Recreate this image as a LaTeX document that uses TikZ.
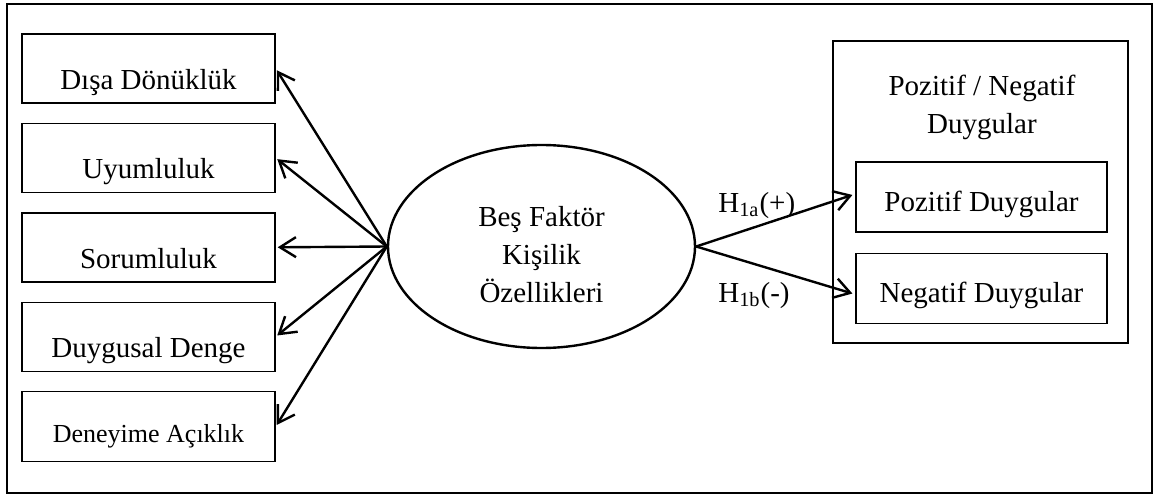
\documentclass[tikz,border=0pt]{standalone}
\usepackage{fontspec}
\setmainfont{Liberation Serif}
\usetikzlibrary{positioning}
\usetikzlibrary{shapes.geometric}
\usetikzlibrary{arrows.meta}

\begin{document}
\begin{tikzpicture}[
		x=0.5pt, y=-0.5pt,
		% styles
		yazi/.style={font=\fontsize{14.5pt}{19pt}\selectfont},
		kutu/.style={draw, line width=0.7pt, minimum width=126.5pt, minimum height=34.5pt, inner sep=0pt, text height=21pt, text depth=0pt, yazi},
		ickutu/.style={draw, line width=0.7pt, minimum width=125.5pt, minimum height=35pt, inner sep=0pt, text height=14pt, text depth=0pt, yazi},
		elips/.style={draw, ellipse, line width=1.2pt, minimum width=153.5pt, minimum height=101.5pt, inner sep=0pt, align=center, yazi},
		ok/.style={-{Straight Barb[length=8pt, width=10pt]}, line width=1.2pt},
		node distance=9.5pt,
		]
		\useasboundingbox (0,0) rectangle (1158,498);
		% outer frame
		\draw[line width=1.2pt] (7,4) rectangle (1152,493);

		% left boxes
		\node[kutu] (disa) at (148.5,68.5) {Dışa Dönüklük};
		\node[kutu, below=of disa] (uyum) {Uyumluluk};
		\node[kutu, below=of uyum] (sorum) {Sorumluluk};
		\node[kutu, below=of sorum] (denge) {Duygusal Denge};
		\node[kutu, below=of denge, minimum height=35pt, text height=16pt, font=\fontsize{13pt}{16pt}\selectfont] (acik) {Deneyime Açıklık};

		% middle
		\node[elips] (bes) at (541.5,246.5) {\rule{0pt}{18pt}Beş Faktör\\Kişilik\\Özellikleri};

		% right group
		\node[draw, line width=0.7pt, minimum width=147.5pt, minimum height=151pt] (duygu) at (980.5,192) {};
		\node[yazi, align=center, inner sep=0pt] (baslik) at (982,107.5) {Pozitif / Negatif\\Duygular};
		\node[ickutu] (pozitif) at (981.5,197) {Pozitif Duygular};
		\node[ickutu, below=10pt of pozitif] (negatif) {Negatif Duygular};

		% arrows
		\foreach \k in {disa,uyum,sorum,denge,acik}
			\draw[ok, shorten >=1pt] (bes.west) -- (\k.east);
		\draw[ok, shorten >=1.5pt] (bes.east) -- ([yshift=1.5pt]pozitif.west);
		\draw[ok, shorten >=1.5pt] (bes.east) -- ([yshift=-3pt]negatif.west);

		% hypothesis labels
		\node[yazi, anchor=base west, inner sep=0pt] (h1a) at (718,212) {H\textsubscript{1a}(+)};
		\node[yazi, anchor=base west, inner sep=0pt] (h1b) at (718,302) {H\textsubscript{1b}(-)};

	\end{tikzpicture}
\end{document}
